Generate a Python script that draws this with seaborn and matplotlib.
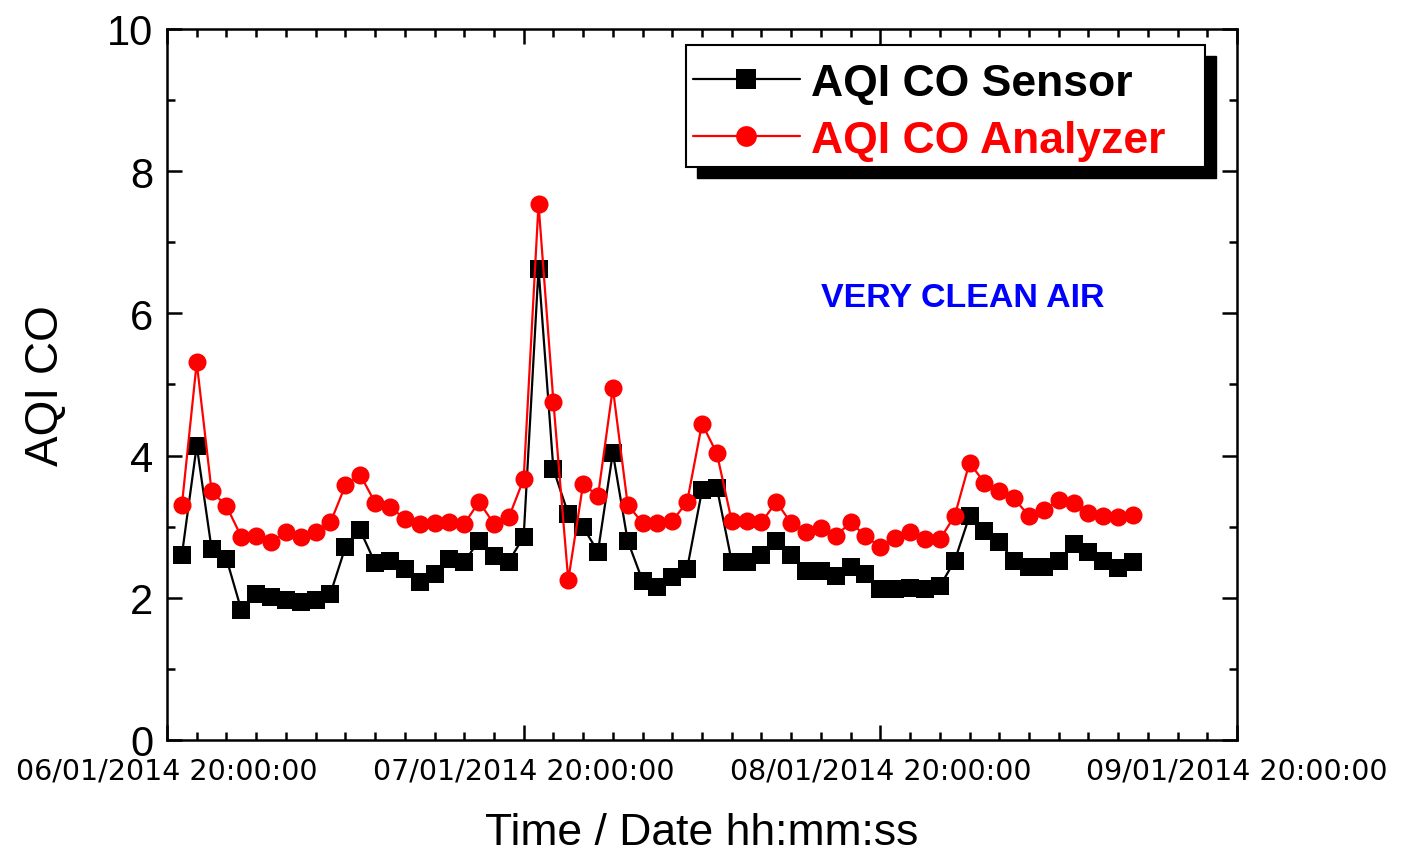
import pandas as pd
import numpy as np
import matplotlib
matplotlib.use("Agg")
import matplotlib.pyplot as plt
import matplotlib.dates as mdates
import matplotlib.patches as mpatches
from matplotlib.ticker import MultipleLocator
import seaborn as sns

# hourly readings, first one at 06/01/2014 21:00
start_time = "2014-01-06 21:00"
n_hours = 65

aqi_sensor = [2.60, 4.14, 2.69, 2.55, 1.83, 2.05, 2.01, 1.97, 1.94, 1.97,
              2.06, 2.71, 2.95, 2.49, 2.52, 2.41, 2.22, 2.33, 2.55, 2.51,
              2.80, 2.59, 2.51, 2.86, 6.63, 3.81, 3.18, 2.99, 2.65, 4.04,
              2.80, 2.24, 2.15, 2.29, 2.41, 3.51, 3.55, 2.51, 2.51, 2.60,
              2.80, 2.60, 2.38, 2.38, 2.31, 2.44, 2.33, 2.12, 2.13, 2.14,
              2.13, 2.16, 2.52, 3.15, 2.94, 2.78, 2.52, 2.43, 2.43, 2.52,
              2.76, 2.64, 2.52, 2.42, 2.50]

aqi_analyzer = [3.30, 5.31, 3.50, 3.29, 2.86, 2.87, 2.78, 2.92, 2.86, 2.93,
                3.06, 3.58, 3.73, 3.34, 3.28, 3.11, 3.04, 3.05, 3.07, 3.04,
                3.35, 3.04, 3.13, 3.67, 7.54, 4.76, 2.25, 3.60, 3.43, 4.95,
                3.31, 3.05, 3.05, 3.08, 3.35, 4.45, 4.03, 3.08, 3.08, 3.06,
                3.35, 3.05, 2.92, 2.98, 2.87, 3.06, 2.87, 2.71, 2.84, 2.92,
                2.82, 2.82, 3.15, 3.90, 3.62, 3.50, 3.40, 3.15, 3.23, 3.37,
                3.34, 3.19, 3.15, 3.13, 3.16]

x_start = "2014-01-06 20:00"
x_end = "2014-01-09 20:00"

df = pd.DataFrame({
    "time": pd.date_range(start_time, periods=n_hours, freq="h"),
    "sensor": aqi_sensor,
    "analyzer": aqi_analyzer,
})

sns.set_style("ticks")
plt.rcParams["font.family"] = ["Liberation Sans", "DejaVu Sans"]
plt.rcParams.update({"text.color": "black", "axes.labelcolor": "black",
                     "xtick.color": "black", "ytick.color": "black"})

W, H = 1406, 854
fig = plt.figure(figsize=(W / 100, H / 100), dpi=100)
ax = fig.add_axes([167 / W, 1 - 741 / H, 1070 / W, 711 / H])

sns.lineplot(data=df, x="time", y="sensor", ax=ax, color="black", lw=1.6,
             marker="s", markersize=13, markeredgecolor="black",
             markeredgewidth=0, label="AQI CO Sensor")
sns.lineplot(data=df, x="time", y="analyzer", ax=ax, color="#ff0000", lw=1.6,
             marker="o", markersize=13, markeredgecolor="#ff0000",
             markeredgewidth=0, label="AQI CO Analyzer")
if ax.get_legend() is not None:
    ax.get_legend().remove()

ax.set_xlim(pd.Timestamp(x_start), pd.Timestamp(x_end))
ax.set_ylim(0, 10)
ax.xaxis.set_major_locator(mdates.HourLocator(byhour=[20]))
ax.xaxis.set_minor_locator(mdates.HourLocator(byhour=range(0, 24, 2)))
ax.xaxis.set_major_formatter(mdates.DateFormatter("%d/%m/%Y %H:%M:%S"))
ax.yaxis.set_major_locator(MultipleLocator(2))
ax.yaxis.set_minor_locator(MultipleLocator(1))

for sp in ax.spines.values():
    sp.set_visible(True)
    sp.set_linewidth(1.8)
    sp.set_color("black")
ax.tick_params(which="both", direction="in", top=True, right=True,
               width=1.8, color="black")
ax.tick_params(which="major", length=11)
ax.tick_params(which="minor", length=6)
ax.tick_params(axis="x", pad=12)
ax.tick_params(axis="y", pad=10)
for lab in ax.get_xticklabels():
    lab.set_fontfamily("DejaVu Sans")
    lab.set_fontsize(20.5)
for lab in ax.get_yticklabels():
    lab.set_fontsize(30)

ax.set_xlabel("Time / Date hh:mm:ss", fontsize=32)
ax.set_ylabel("AQI CO", fontsize=33)
ax.xaxis.set_label_coords(0.5, -0.101)
ax.yaxis.set_label_coords(-0.093, 0.5)

ax.text(0.744, 0.623, "VERY CLEAN AIR", transform=ax.transAxes,
        ha="center", va="center", fontsize=24.5, fontweight="bold",
        color="#0000ff")

# legend box with a solid offset shadow
bx0, bx1, by0, by1 = 686, 1205, 45.5, 167.7
shadow = mpatches.Rectangle(((bx0 + 10.5) / W, 1 - (by1 + 11) / H),
                            (bx1 - bx0) / W, (by1 - by0) / H,
                            transform=fig.transFigure, facecolor="black",
                            edgecolor="black", zorder=3)
frame = mpatches.Rectangle((bx0 / W, 1 - by1 / H),
                           (bx1 - bx0) / W, (by1 - by0) / H,
                           transform=fig.transFigure, facecolor="white",
                           edgecolor="black", lw=1.5, zorder=4)
fig.add_artist(shadow)
fig.add_artist(frame)

handles, labels = ax.get_legend_handles_labels()
leg = fig.legend(handles, labels, loc="upper left",
                 bbox_to_anchor=(693 / W, 1 - 64 / H),
                 bbox_transform=fig.transFigure, frameon=False,
                 borderpad=0, borderaxespad=0, handlelength=2.4,
                 handletextpad=0.25, labelspacing=0.35,
                 labelcolor="linecolor", markerscale=1.15,
                 prop={"family": "Liberation Sans", "weight": "bold",
                       "size": 32})
leg.set_zorder(6)

fig.savefig("out.png", dpi=100, facecolor="white")
